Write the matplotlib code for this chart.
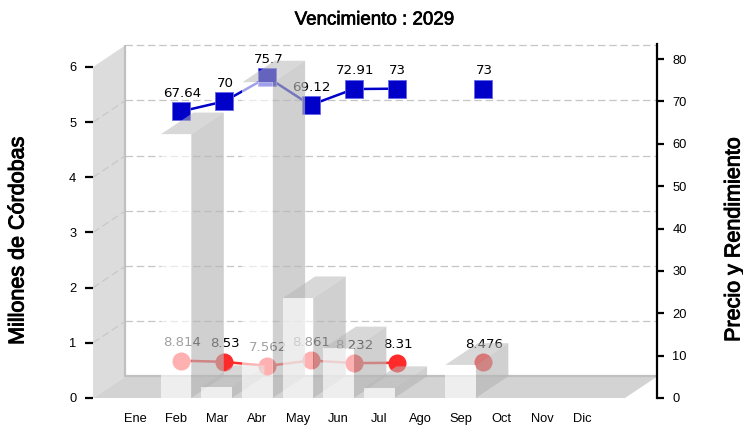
import numpy as np
import matplotlib
matplotlib.use("Agg")
import matplotlib.pyplot as plt
import matplotlib.patheffects as pe
from matplotlib.patches import Polygon

months = ["Ene", "Feb", "Mar", "Abr", "May", "Jun", "Jul", "Ago", "Sep", "Oct", "Nov", "Dic"]
amounts = [0, 4.78, 0.2, 5.72, 1.81, 0.9, 0.18, 0, 0.6, 0, 0, 0]
price = [np.nan, 67.64, 70, 75.7, 69.12, 72.91, 73, np.nan, 73, np.nan, np.nan, np.nan]
yield_ = [np.nan, 8.814, 8.53, 7.562, 8.861, 8.232, 8.31, np.nan, 8.476, np.nan, np.nan, np.nan]
left_ticks = [0, 1, 2, 3, 4, 5, 6]
right_ticks = [0, 10, 20, 30, 40, 50, 60, 70, 80]

W, H = 743, 430
fig = plt.figure(figsize=(W / 100, H / 100), dpi=100)
L, R, T, B = 93, 657, 44, 398
rect = [L / W, 1 - B / H, (R - L) / W, (B - T) / H]

PX_X, PX_Y = 40.65, 55.17
CX0 = 135.4
xlim = ((L - CX0) / PX_X, (R - CX0) / PX_X)
ylim = (0, (B - T) / PX_Y)
DX, DY = 32.5 / PX_X, 21.7 / PX_Y
BW = 30.5 / PX_X

bg = fig.add_axes(rect, zorder=1)
ln = fig.add_axes(rect, zorder=2)
br = fig.add_axes(rect, zorder=3)

for a in (bg, br):
    a.set_xlim(xlim)
    a.set_ylim(ylim)
for a in (ln, br):
    a.patch.set_visible(False)
for a in (bg, ln, br):
    for s in a.spines.values():
        s.set_visible(False)

# walls and floor
x0, x1 = xlim
xf = (625 - CX0) / PX_X
ytop = left_ticks[-1]
bg.add_patch(Polygon([(x0, 0), (x0, ytop), (x0 + DX, ytop + DY), (x0 + DX, DY)], fc="#dcdcdc", ec="none", zorder=1))
bg.add_patch(Polygon([(x0, 0), (xf, 0), (xf + DX, DY), (x0 + DX, DY)], fc="#d3d3d3", ec="none", zorder=1))
bg.plot([x0 + DX, x0 + DX], [DY, ytop + DY], color="#c0c0c0", lw=1.6, zorder=3, solid_capstyle="butt")
bg.plot([x0 + DX, x1], [DY, DY], color="#c0c0c0", lw=1.6, zorder=3)
for k in left_ticks[1:]:
    bg.plot([x0 + DX, x1], [k + DY, k + DY], color="#c6c6c6", lw=0.9, dashes=(6, 3), zorder=2)
    if k < ytop:
        bg.plot([x0, x0 + DX], [k, k + DY], color="#c8c8c8", lw=0.9, dashes=(6, 3), zorder=2)

bg.set_yticks(left_ticks)
bg.tick_params(axis="y", length=6, width=1.6, color="black", labelsize=9.3, pad=6, labelfontfamily="Liberation Sans")
bg.set_xticks(range(12))
bg.set_xticklabels(months, fontsize=9.3, fontfamily="Liberation Sans", va="baseline")
bg.tick_params(axis="x", length=0, pad=17.5)

# lines
ln.set_xlim((L - 138) / 43.14, (R - 138) / 43.14)
ln.set_ylim(0, (B - T) / 4.2375)
ln.set_xticks([])
ln.yaxis.tick_right()
ln.set_yticks(right_ticks)
ln.tick_params(axis="y", length=5, width=1.6, color="black", labelsize=9.3, pad=6, labelfontfamily="Liberation Sans")
ln.spines["right"].set_visible(True)
ln.spines["right"].set_linewidth(1.6)
xs = np.arange(12)
ln.plot(xs, price, color="#0000c8", lw=1.8, marker="s", ms=13.2, mfc="#0000c8", mec="#6666e8", mew=0.6, clip_on=False)
ln.plot(xs, yield_, color="#ff2a2a", lw=1.8, marker="o", ms=13, mfc="#ff2a2a", mec="#ff2a2a", mew=0, clip_on=False)
for vals in (price, yield_):
    for i, v in enumerate(vals):
        if not np.isnan(v):
            ln.annotate(f"{v:g}", (i, v), xytext=(0.7, 13), textcoords="offset points", ha="center", va="center",
                        fontsize=9.6, color="black", fontfamily="DejaVu Sans")

# bars
br.set_xticks([])
br.set_yticks([])
for i, v in enumerate(amounts):
    if v <= 0:
        continue
    a, b = i - BW / 2, i + BW / 2
    br.add_patch(Polygon([(b, 0), (b + DX, DY), (b + DX, v + DY), (b, v)], fc="#b7b7b7", alpha=0.65, ec="none"))
    br.add_patch(Polygon([(a, v), (b, v), (b + DX, v + DY), (a + DX, v + DY)], fc="#b8b8b8", alpha=0.55, ec="none"))
    br.add_patch(Polygon([(a, 0), (b, 0), (b, v), (a, v)], fc="white", alpha=0.63, ec="none"))

stroke = [pe.withStroke(linewidth=0.5, foreground="black")]
fig.text(374.5 / W, 1 - 20 / H, "Vencimiento : 2029", ha="center", va="center", fontsize=13.5,
         fontfamily="Liberation Sans", path_effects=stroke)
fig.text(18 / W, 1 - 241 / H, "Millones de Córdobas", rotation=90, ha="center", va="center", fontsize=15.5,
         fontfamily="Liberation Sans", path_effects=[pe.withStroke(linewidth=0.7, foreground="black")])
fig.text(734 / W, 1 - 240 / H, "Precio y Rendimiento", rotation=90, ha="center", va="center", fontsize=15.5,
         fontfamily="Liberation Sans", path_effects=[pe.withStroke(linewidth=0.7, foreground="black")])

fig.savefig("out.png", dpi=100)
